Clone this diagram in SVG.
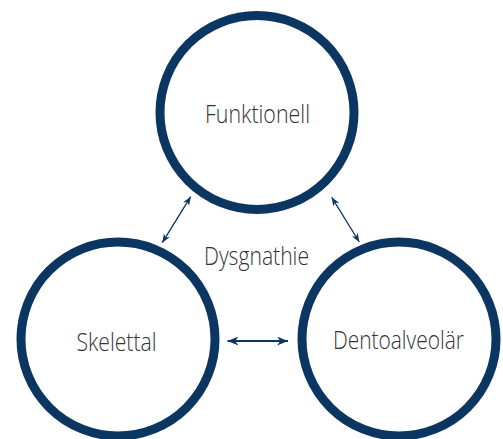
<svg xmlns="http://www.w3.org/2000/svg" width="503" height="439" viewBox="0 0 503 439">
  <style>
    .ring { fill: #ffffff; stroke: #0c3662; stroke-width: 9; }
    .lbl { font-family: "Open Sans", "Liberation Sans", sans-serif; font-size: 25px; font-weight: 300; fill: #333333; text-anchor: middle; }
    .con { stroke: #0c3662; fill: none; }
  </style>
  <defs>
    <marker id="ah" markerUnits="userSpaceOnUse" viewBox="0 0 10 8" refX="10" refY="4" markerWidth="9" markerHeight="7" orient="auto-start-reverse">
      <path d="M0,0 L10,4 L0,8 L3,4 z" fill="#0c3662"/>
    </marker>
    <marker id="ahBig" markerUnits="userSpaceOnUse" viewBox="0 0 10 8" refX="10" refY="4" markerWidth="11" markerHeight="9" orient="auto-start-reverse">
      <path d="M0,0 L10,4 L0,8 L3,4 z" fill="#0c3662"/>
    </marker>
  </defs>
  <g id="connectors">
    <line class="con" x1="190.7" y1="196.7" x2="162.3" y2="242.7" stroke-width="1.3" marker-start="url(#ah)" marker-end="url(#ah)"/>
    <line class="con" x1="331.7" y1="197.3" x2="359.3" y2="242" stroke-width="1.3" marker-start="url(#ah)" marker-end="url(#ah)"/>
    <line class="con" x1="227.5" y1="341" x2="288" y2="341" stroke-width="2" marker-start="url(#ahBig)" marker-end="url(#ahBig)"/>
  </g>
  <g id="funktionell">
    <circle class="ring" cx="257" cy="112.5" r="97"/>
    <text class="lbl" x="257.5" y="123.3" textLength="105" lengthAdjust="spacingAndGlyphs">Funktionell</text>
  </g>
  <g id="skelettal">
    <circle class="ring" cx="118" cy="339" r="97"/>
    <text class="lbl" x="116.5" y="350.7" textLength="80" lengthAdjust="spacingAndGlyphs">Skelettal</text>
  </g>
  <g id="dentoalveolaer">
    <circle class="ring" cx="399" cy="339" r="97"/>
    <text class="lbl" x="398.4" y="349.3" textLength="131" lengthAdjust="spacingAndGlyphs">Dentoalveolär</text>
  </g>
  <g id="dysgnathie">
    <text class="lbl" x="256.5" y="265" textLength="105" lengthAdjust="spacingAndGlyphs">Dysgnathie</text>
  </g>
</svg>
